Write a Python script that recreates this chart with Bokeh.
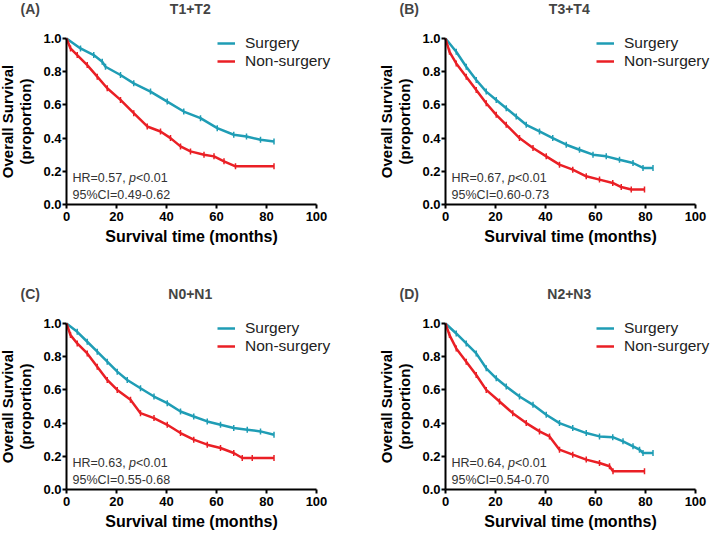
import numpy as np
from bokeh.plotting import figure
from bokeh.layouts import gridplot
from bokeh.models import (Range1d, FixedTicker, NumeralTickFormatter, Label,
                          Legend, LegendItem)
from bokeh.embed import file_html
from bokeh.resources import INLINE

# ---------------- data ----------------
panel_tags = ["(A)", "(B)", "(C)", "(D)"]
panel_titles = ["T1+T2", "T3+T4", "N0+N1", "N2+N3"]
hr_texts = ["HR=0.57,", "HR=0.67,", "HR=0.63,", "HR=0.64,"]
p_texts = ["<0.01", "<0.01", "<0.01", "<0.01"]
ci_texts = ["95%CI=0.49-0.62", "95%CI=0.60-0.73", "95%CI=0.55-0.68", "95%CI=0.54-0.70"]
series_names = ["Surgery", "Non-surgery"]

A_surg_t = [0, 5.6, 10.9, 14.3, 15.6, 21.6, 26.9, 33.6, 40.3, 46.9, 53.6, 60.3, 66.9, 72, 77.6, 83]
A_surg_s = [1.0, 0.94, 0.90, 0.86, 0.83, 0.78, 0.73, 0.68, 0.62, 0.56, 0.52, 0.46, 0.42, 0.41, 0.39, 0.38]
A_non_t = [0, 1.6, 4.3, 8.3, 12.3, 16.3, 21.6, 26.9, 32.3, 37.6, 41.6, 45.6, 49.6, 55, 59, 63, 67.6, 83]
A_non_s = [1.0, 0.94, 0.90, 0.84, 0.77, 0.70, 0.63, 0.55, 0.47, 0.44, 0.40, 0.35, 0.32, 0.30, 0.29, 0.26, 0.23, 0.23]

B_surg_t = [0, 4.3, 8.3, 12.3, 16.3, 20.3, 24.3, 28.3, 32.3, 37.6, 42.9, 48.3, 53.6, 59, 64.3, 69.6, 75, 79, 83]
B_surg_s = [1.0, 0.92, 0.83, 0.75, 0.68, 0.63, 0.58, 0.53, 0.48, 0.44, 0.40, 0.36, 0.33, 0.30, 0.29, 0.27, 0.25, 0.22, 0.22]
B_non_t = [0, 1.6, 4.3, 8.3, 12.3, 16.3, 20.3, 24.3, 29.6, 35, 40.3, 45.6, 50.9, 56.3, 61.6, 66.9, 70.3, 74.3, 79.6]
B_non_s = [1.0, 0.92, 0.85, 0.77, 0.69, 0.61, 0.54, 0.48, 0.40, 0.34, 0.29, 0.24, 0.21, 0.17, 0.15, 0.13, 0.105, 0.09, 0.09]

C_surg_t = [0, 4.3, 8.3, 12.3, 16.3, 20.3, 24.3, 29.6, 35, 40.3, 45.6, 50.9, 56.3, 61.6, 66.9, 72.3, 77.6, 83]
C_surg_s = [1.0, 0.95, 0.89, 0.83, 0.77, 0.71, 0.66, 0.61, 0.56, 0.52, 0.47, 0.44, 0.41, 0.39, 0.37, 0.36, 0.35, 0.33]
C_non_t = [0, 1.6, 4.3, 8.3, 12.3, 16.3, 20.3, 25.6, 29.6, 35, 40.3, 45.6, 50.9, 56.3, 61.6, 66.9, 70.3, 74.3, 83]
C_non_s = [1.0, 0.93, 0.88, 0.82, 0.74, 0.66, 0.60, 0.54, 0.46, 0.43, 0.39, 0.34, 0.30, 0.27, 0.25, 0.22, 0.19, 0.19, 0.19]

D_surg_t = [0, 4.3, 8.3, 12.3, 16.3, 20.3, 24.3, 29.6, 35, 40.3, 45.6, 50.9, 56.3, 61.6, 66.9, 71, 75, 77.6, 79, 83]
D_surg_s = [1.0, 0.94, 0.88, 0.82, 0.73, 0.67, 0.62, 0.56, 0.51, 0.45, 0.40, 0.37, 0.34, 0.32, 0.315, 0.29, 0.26, 0.24, 0.22, 0.22]
D_non_t = [0, 1.6, 4.3, 8.3, 12.3, 16.3, 21.6, 26.9, 32.3, 37.6, 41.6, 45.6, 50.9, 56.3, 61.6, 65.6, 67, 79.6]
D_non_s = [1.0, 0.93, 0.85, 0.77, 0.69, 0.60, 0.53, 0.46, 0.40, 0.35, 0.32, 0.24, 0.21, 0.18, 0.16, 0.14, 0.11, 0.11]

surg_series = [(A_surg_t, A_surg_s), (B_surg_t, B_surg_s), (C_surg_t, C_surg_s), (D_surg_t, D_surg_s)]
non_series = [(A_non_t, A_non_s), (B_non_t, B_non_s), (C_non_t, C_non_s), (D_non_t, D_non_s)]

x_ticks = [0, 20, 40, 60, 80, 100]
y_ticks = [0.0, 0.2, 0.4, 0.6, 0.8, 1.0]

# ---------------- style ----------------
TEAL = "#1f9db5"
RED = "#ea1f25"
FONT = "Liberation Sans"
TXT = "#333333"

X_LO, X_HI = -26.4, 106.8     # frame covers label area (2.5 px per month)
PX_PER_UNIT = 166.0           # vertical px per survival unit
Y_TOP = 204 / PX_PER_UNIT     # frame starts at the panel's top edge


def make_panel(i, width, height, right):
    y_lo = -(height - 204) / PX_PER_UNIT
    p = figure(width=width, height=height, output_backend="svg", toolbar_location=None,
               title=None, x_range=Range1d(X_LO, X_HI), y_range=Range1d(y_lo, Y_TOP),
               min_border_left=0, min_border_right=right,
               min_border_top=0, min_border_bottom=0)
    p.outline_line_color = None
    p.grid.visible = False
    p.background_fill_color = "white"
    p.border_fill_color = "white"

    for ax in (p.xaxis[0], p.yaxis[0]):
        ax.axis_line_width = 2
        ax.axis_line_color = "black"
        ax.major_tick_line_width = 2
        ax.major_tick_line_color = "black"
        ax.major_tick_out = 4
        ax.major_tick_in = 0
        ax.minor_tick_out = 0
        ax.minor_tick_in = 0
        ax.major_label_text_font = FONT
        ax.major_label_text_font_style = "bold"
        ax.major_label_text_font_size = "13px"
        ax.major_label_text_color = "black"
        ax.axis_label_text_font = FONT
        ax.axis_label_text_font_style = "bold"
        ax.axis_label_text_color = "black"

    xa = p.xaxis[0]
    ya = p.yaxis[0]
    xa.ticker = FixedTicker(ticks=x_ticks)
    ya.ticker = FixedTicker(ticks=y_ticks)
    ya.formatter = NumeralTickFormatter(format="0.0")
    xa.bounds = (0, 100)
    ya.bounds = (0, 1)
    xa.fixed_location = 0
    ya.fixed_location = 0
    xa.axis_label = "Survival time (months)"
    ya.axis_label = "Overall Survival\n(proportion)"
    xa.axis_label_text_font_size = "16px"
    ya.axis_label_text_font_size = "15px"
    ya.axis_label_text_line_height = 1.1
    xa.major_label_standoff = 3
    xa.axis_label_standoff = 4
    ya.major_label_standoff = 1
    ya.axis_label_standoff = 6

    st, ss = surg_series[i]
    nt, ns = non_series[i]
    r1 = p.line(st, ss, line_color=TEAL, line_width=2.5)
    r2 = p.line(nt, ns, line_color=RED, line_width=2.5)
    p.scatter(st[1:], ss[1:], marker="dash", angle=np.pi / 2, size=6,
              line_color=TEAL, line_width=1.5)
    p.scatter(nt[1:], ns[1:], marker="dash", angle=np.pi / 2, size=6,
              line_color=RED, line_width=1.5)

    leg = Legend(items=[LegendItem(label=series_names[0], renderers=[r1]),
                        LegendItem(label=series_names[1], renderers=[r2])],
                 location=(217, height - 70), padding=0, margin=0, spacing=0,
                 glyph_width=18, glyph_height=18, label_height=18,
                 label_standoff=10, label_text_font=FONT,
                 label_text_font_size="15.5px", label_text_color="#222222",
                 background_fill_alpha=0, border_line_alpha=0)
    p.add_layout(leg)

    # panel tag and title
    p.add_layout(Label(x=-18.4, y=1.175, text=panel_tags[i], text_font=FONT,
                       text_font_style="bold", text_font_size="14px",
                       text_baseline="middle", text_align="left"))
    p.add_layout(Label(x=49.5, y=1.175, text=panel_titles[i], text_font=FONT,
                       text_font_style="bold", text_font_size="14px",
                       text_baseline="middle", text_align="center"))

    # HR / CI annotation
    fs = "12.5px"
    p.add_layout(Label(x=2.4, y=0.157, text=hr_texts[i], text_font=FONT,
                       text_font_size=fs, text_color=TXT, text_baseline="middle"))
    p.add_layout(Label(x=2.4, y=0.157, x_offset=56.5, text="p", text_font=FONT,
                       text_font_size=fs, text_font_style="italic", text_color=TXT,
                       text_baseline="middle"))
    p.add_layout(Label(x=2.4, y=0.157, x_offset=63.5, text=p_texts[i], text_font=FONT,
                       text_font_size=fs, text_color=TXT, text_baseline="middle"))
    p.add_layout(Label(x=2.4, y=0.06, text=ci_texts[i], text_font=FONT,
                       text_font_size=fs, text_color=TXT, text_baseline="middle"))
    return p


pa = make_panel(0, 379, 285, 46)
pb = make_panel(1, 334, 285, 1)
pc = make_panel(2, 379, 249, 46)
pd = make_panel(3, 334, 249, 1)

grid = gridplot([[pa, pb], [pc, pd]], toolbar_location=None)

open("out.html", "w").write(file_html(grid, INLINE))
